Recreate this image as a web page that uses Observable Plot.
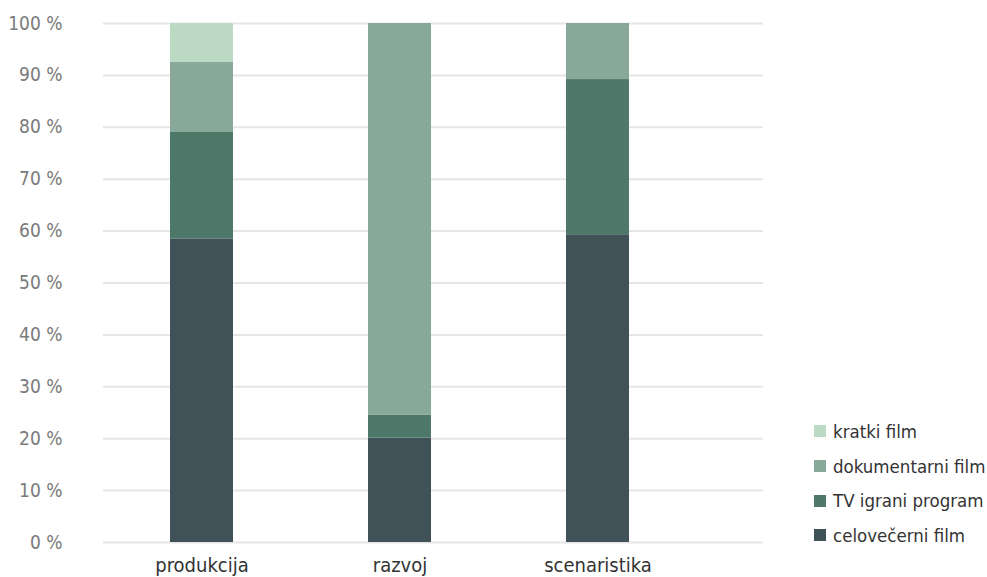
<!DOCTYPE html>
<html>
<head>
<meta charset="utf-8">
<script src="https://cdn.jsdelivr.net/npm/d3@7"></script>
<script src="https://cdn.jsdelivr.net/npm/@observablehq/plot@0.6"></script>
<style>
  html, body { margin: 0; padding: 0; background: #fff; }
  #wrap { position: relative; width: 987px; height: 577px; font-family: "Liberation Sans Narrow", "DejaVu Sans Condensed", sans-serif; }
  #legend { position: absolute; left: 814px; top: 414px; }
  .item { display: flex; align-items: center; height: 34.7px; font-size: 18.5px; color: #333; }
  .sw { width: 12px; height: 12px; margin-right: 7px; }
</style>
</head>
<body>
<div id="wrap"><div id="legend"></div></div>
<script>
const categories = ["produkcija", "razvoj", "scenaristika"];
const series = ["celovečerni film", "TV igrani program", "dokumentarni film", "kratki film"];
const colors = ["#405158", "#4e786a", "#88a89a", "#bbd9c3"];
const celovecerni = [58.5, 20.1, 59.3];
const tvIgrani = [20.5, 4.4, 29.9];
const dokumentarni = [13.5, 75.5, 10.8];
const kratki = [7.5, 0, 0];
const yTicks = [0, 10, 20, 30, 40, 50, 60, 70, 80, 90, 100];

const valuesBySeries = [celovecerni, tvIgrani, dokumentarni, kratki];
const data = [];
series.forEach((s, si) => categories.forEach((c, ci) => data.push({cat: c, series: s, value: valuesBySeries[si][ci]})));

const chart = Plot.plot({
  width: 987,
  height: 577,
  marginLeft: 103,
  marginRight: 224,
  marginTop: 23,
  marginBottom: 35,
  style: {fontFamily: '"Liberation Sans Narrow", "DejaVu Sans Condensed", sans-serif', background: "#fff"},
  x: {domain: categories, range: [102.5, 696.5], paddingInner: 0.682, paddingOuter: 0.341, label: null},
  y: {domain: [0, 100], ticks: yTicks, label: null},
  color: {domain: series, range: colors},
  marks: [
    Plot.ruleY(yTicks, {stroke: "#e6e6e6", strokeWidth: 2}),
    Plot.barY(data, {x: "cat", y: "value", fill: "series", order: series}),
    Plot.axisY({ticks: yTicks, tickSize: 0, tickPadding: 0, dx: -41, textAnchor: "end", tickFormat: d => d + " %", fontSize: 19, fill: "#7a7a7a", label: null}),
    Plot.axisX({tickSize: 0, tickPadding: 15, fontSize: 20, fill: "#333", label: null})
  ]
});
document.getElementById("wrap").prepend(chart);
chart.style.position = "absolute";
chart.style.left = "0";
chart.style.top = "0";

const legend = document.getElementById("legend");
[...series].reverse().forEach(s => {
  const i = series.indexOf(s);
  const d = document.createElement("div");
  d.className = "item";
  d.innerHTML = `<span class="sw" style="background:${colors[i]}"></span><span>${s}</span>`;
  legend.appendChild(d);
});
</script>
</body>
</html>
